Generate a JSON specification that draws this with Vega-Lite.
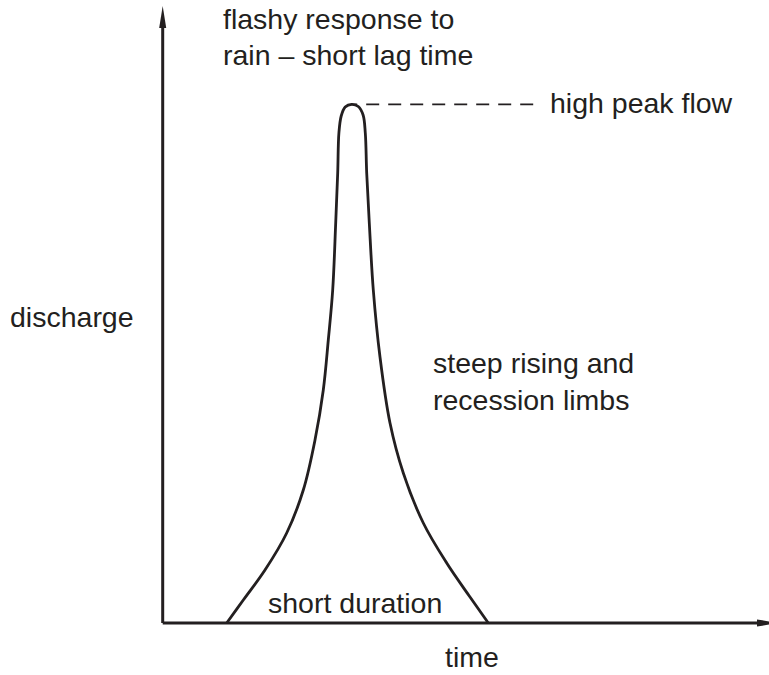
{
  "$schema": "https://vega.github.io/schema/vega-lite/v6.json",
  "width": 769,
  "height": 675,
  "autosize": {"type": "none"},
  "padding": 0,
  "background": "white",
  "config": {"view": {"stroke": null}},
  "datasets": {
    "curve": [
      {"i": 0, "t": 6.40, "q": 0.0},
      {"i": 1, "t": 8.06, "q": 2.3},
      {"i": 2, "t": 10.23, "q": 5.3},
      {"i": 3, "t": 12.4, "q": 9.0},
      {"i": 4, "t": 14.06, "q": 13.3},
      {"i": 5, "t": 15.23, "q": 18.3},
      {"i": 6, "t": 16.06, "q": 23.3},
      {"i": 7, "t": 16.56, "q": 28.3},
      {"i": 8, "t": 17.0, "q": 33.3},
      {"i": 9, "t": 17.3, "q": 40.0},
      {"i": 10, "t": 17.5, "q": 45.0},
      {"i": 11, "t": 17.62, "q": 49.0},
      {"i": 12, "t": 17.85, "q": 50.7},
      {"i": 13, "t": 18.25, "q": 51.6},
      {"i": 14, "t": 18.9, "q": 51.87},
      {"i": 15, "t": 19.56, "q": 51.65},
      {"i": 16, "t": 20.04, "q": 50.8},
      {"i": 17, "t": 20.26, "q": 49.0},
      {"i": 18, "t": 20.4, "q": 45.0},
      {"i": 19, "t": 20.66, "q": 40.0},
      {"i": 20, "t": 21.06, "q": 33.3},
      {"i": 21, "t": 21.73, "q": 26.6},
      {"i": 22, "t": 22.73, "q": 20.0},
      {"i": 23, "t": 24.06, "q": 15.0},
      {"i": 24, "t": 26.06, "q": 10.0},
      {"i": 25, "t": 28.4, "q": 6.0},
      {"i": 26, "t": 30.73, "q": 2.6},
      {"i": 27, "t": 32.56, "q": 0.0}
    ],
    "axes": [
      {"name": "time axis", "t0": 0, "t1": 59.5, "q0": 0, "q1": 0},
      {"name": "discharge axis", "t0": 0, "t1": 0, "q0": 0, "q1": 59.6}
    ],
    "arrows": [
      {"dir": "up", "t": 0, "q": 60.6},
      {"dir": "right", "t": 60.53, "q": 0}
    ],
    "peak": [
      {"t0": 18.8, "t1": 37.05, "q": 51.87}
    ],
    "labels": [
      {"label": "flashy response to", "t": 6.03, "q": 59.4},
      {"label": "rain – short lag time", "t": 6.03, "q": 55.8},
      {"label": "high peak flow", "t": 38.73, "q": 51.0},
      {"label": "discharge", "t": -15.27, "q": 29.6},
      {"label": "steep rising and", "t": 27.03, "q": 24.97},
      {"label": "recession limbs", "t": 27.03, "q": 21.27},
      {"label": "short duration", "t": 10.53, "q": 1.0},
      {"label": "time", "t": 28.23, "q": -4.4}
    ]
  },
  "layer": [
    {
      "data": {"name": "axes"},
      "mark": {"type": "rule", "color": "#231f20", "strokeWidth": 3},
      "encoding": {
        "x": {"field": "t0", "type": "quantitative", "axis": null, "scale": {"domain": [-16.27, 60.63], "nice": false, "zero": false}},
        "x2": {"field": "t1"},
        "y": {"field": "q0", "type": "quantitative", "axis": null, "scale": {"domain": [-5.2, 62.3], "nice": false, "zero": false}},
        "y2": {"field": "q1"}
      }
    },
    {
      "data": {"name": "arrows"},
      "transform": [{"filter": "datum.dir === 'up'"}],
      "mark": {"type": "point", "shape": "M0,-1L0.32,1L-0.32,1Z", "size": 484, "filled": true, "color": "#231f20", "opacity": 1},
      "encoding": {
        "x": {"field": "t", "type": "quantitative", "axis": null, "scale": {"domain": [-16.27, 60.63], "nice": false, "zero": false}},
        "y": {"field": "q", "type": "quantitative", "axis": null, "scale": {"domain": [-5.2, 62.3], "nice": false, "zero": false}}
      }
    },
    {
      "data": {"name": "arrows"},
      "transform": [{"filter": "datum.dir === 'right'"}],
      "mark": {"type": "point", "shape": "M1,0L-1,-0.32L-1,0.32Z", "size": 484, "filled": true, "color": "#231f20", "opacity": 1},
      "encoding": {
        "x": {"field": "t", "type": "quantitative", "axis": null, "scale": {"domain": [-16.27, 60.63], "nice": false, "zero": false}},
        "y": {"field": "q", "type": "quantitative", "axis": null, "scale": {"domain": [-5.2, 62.3], "nice": false, "zero": false}}
      }
    },
    {
      "data": {"name": "peak"},
      "mark": {"type": "rule", "color": "#231f20", "strokeWidth": 1.8, "strokeDash": [13, 9]},
      "encoding": {
        "x": {"field": "t1", "type": "quantitative", "axis": null, "scale": {"domain": [-16.27, 60.63], "nice": false, "zero": false}},
        "x2": {"field": "t0"},
        "y": {"field": "q", "type": "quantitative", "axis": null, "scale": {"domain": [-5.2, 62.3], "nice": false, "zero": false}}
      }
    },
    {
      "data": {"name": "curve"},
      "mark": {"type": "line", "color": "#231f20", "strokeWidth": 2.8, "interpolate": "catmull-rom"},
      "encoding": {
        "x": {"field": "t", "type": "quantitative", "axis": null, "scale": {"domain": [-16.27, 60.63], "nice": false, "zero": false}},
        "y": {"field": "q", "type": "quantitative", "axis": null, "scale": {"domain": [-5.2, 62.3], "nice": false, "zero": false}},
        "order": {"field": "i", "type": "quantitative"}
      }
    },
    {
      "data": {"name": "labels"},
      "mark": {"type": "text", "align": "left", "baseline": "alphabetic", "font": "Liberation Sans", "fontSize": 28.5, "color": "#231f20"},
      "encoding": {
        "x": {"field": "t", "type": "quantitative", "axis": null, "scale": {"domain": [-16.27, 60.63], "nice": false, "zero": false}},
        "y": {"field": "q", "type": "quantitative", "axis": null, "scale": {"domain": [-5.2, 62.3], "nice": false, "zero": false}},
        "text": {"field": "label", "type": "nominal"}
      }
    }
  ]
}
